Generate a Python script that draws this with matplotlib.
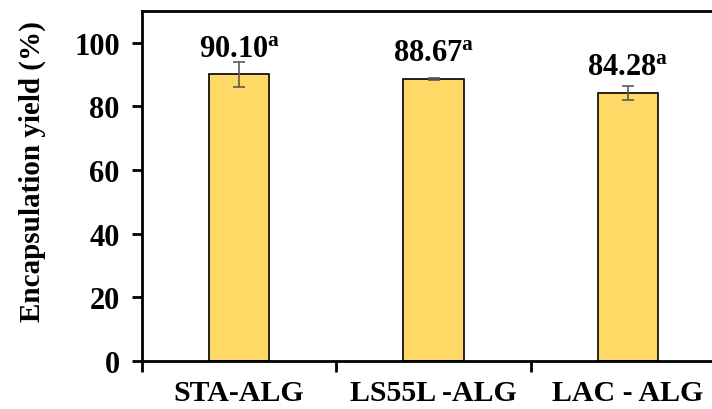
import numpy as np
import matplotlib
matplotlib.use("Agg")
import matplotlib.pyplot as plt
from matplotlib.ticker import FixedLocator

# data
categories = ["STA-ALG", "LS55L -ALG", "LAC - ALG"]
yields = [90.10, 88.67, 84.28]
errors = [3.9, 0.35, 2.3]
letters = ["a", "a", "a"]

plt.rcParams['font.family'] = ['Liberation Serif', 'DejaVu Serif']
plt.rcParams['font.weight'] = 'bold'
plt.rcParams['mathtext.fontset'] = 'custom'
plt.rcParams['mathtext.rm'] = 'Liberation Serif:bold'
plt.rcParams['mathtext.bf'] = 'Liberation Serif:bold'

fig = plt.figure(figsize=(7.12, 4.10), dpi=100)
ax = fig.add_axes([0.1994, 0.117, 0.819, 0.8537])

x = np.arange(len(categories))
ax.bar(x, yields, width=0.31, color='#FFD966', edgecolor='black', linewidth=1.2, zorder=2)
ax.errorbar(x, yields, yerr=errors, fmt='none', ecolor='#595959', elinewidth=1.2,
            capsize=4.3, capthick=1.2, zorder=3)

for xi, v, l in zip(x, yields, letters):
    ax.annotate(r'$\mathbf{%.2f^{%s}}$' % (v, l), (xi, v), xytext=(0, 13.3),
                textcoords='offset points', ha='center', va='baseline', fontsize=22)

ax.set_xlim(-0.5, 2.5)
ax.set_ylim(0, 110)
ax.set_yticks([0, 20, 40, 60, 80, 100])
ax.set_xticks(x)
ax.set_xticklabels(categories)
ax.xaxis.set_minor_locator(FixedLocator([-0.5, 0.5, 1.5, 2.5]))
ax.tick_params(axis='x', which='major', length=0, pad=13, labelsize=21.5)
ax.tick_params(axis='x', which='minor', length=8, width=2)
ax.tick_params(axis='y', length=7, width=2, labelsize=22, pad=9)
for lab in ax.get_xticklabels() + ax.get_yticklabels():
    lab.set_fontweight('bold')

for s in ['left', 'bottom', 'top']:
    ax.spines[s].set_linewidth(2)
ax.spines['right'].set_visible(False)

ax.set_ylabel('Encapsulation yield (%)', fontsize=21, fontweight='bold')
ax.yaxis.set_label_coords(-0.165, 0.543)

fig.savefig('out.png', dpi=100)
